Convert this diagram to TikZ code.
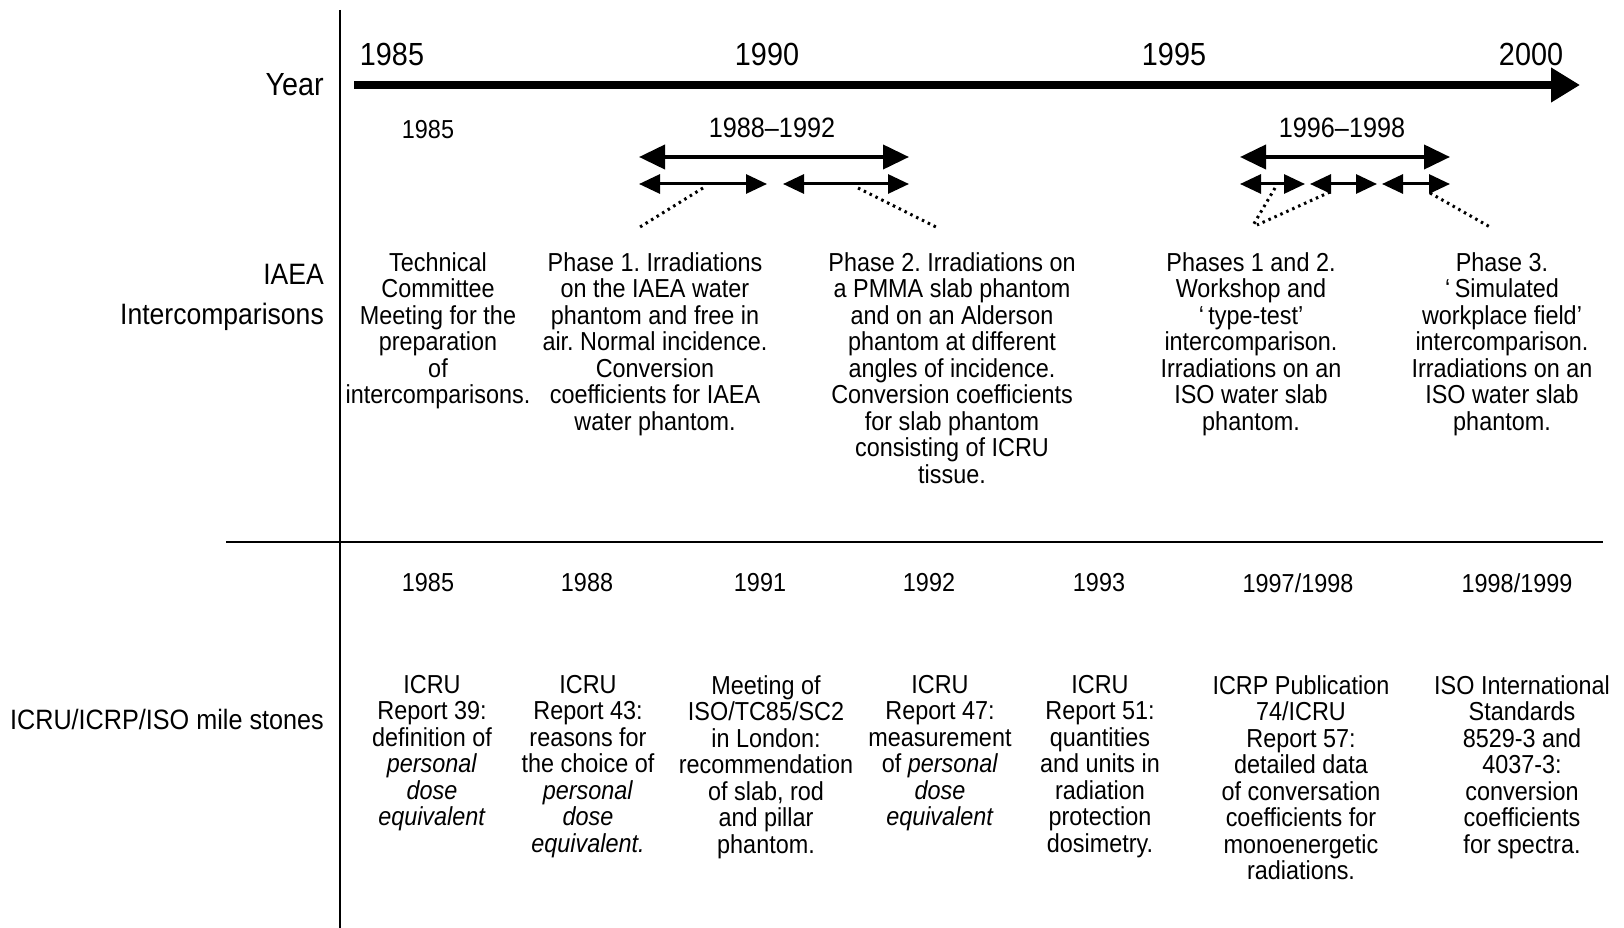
\documentclass[tikz,border=0pt]{standalone}
\usepackage{fontspec}
\setmainfont[FakeStretch=0.9]{Liberation Sans}
\usetikzlibrary{arrows.meta}
\begin{document}
\frenchspacing
\begin{tikzpicture}[x=1pt,y=-1pt,
  body/.style={font=\fontsize{26}{26.5}\selectfont, align=center, inner sep=0pt, anchor=north},
  yr/.style={font=\fontsize{26}{26.5}\selectfont, inner sep=0pt},
  spanyr/.style={font=\fontsize{28}{30}\selectfont, inner sep=0pt},
  topyr/.style={font=\fontsize{32}{34}\selectfont, inner sep=0pt},
  rowlab/.style={font=\fontsize{28}{40}\selectfont, align=right, inner sep=0pt},
  spanarrow/.style={line width=4pt, {Triangle[length=26pt,width=24pt]}-{Triangle[length=26pt,width=24pt]}},
  subarrow/.style={line width=3pt, {Triangle[length=21pt,width=19pt]}-{Triangle[length=21pt,width=19pt]}},
  dotline/.style={line width=3pt, dash pattern=on 2.5pt off 4pt},
  axisline/.style={line width=2pt}
]
\useasboundingbox (0,0) rectangle (1624,928);

% frame lines
\coordinate (vtop) at (340,10);
\coordinate (vbot) at (340,928);
\coordinate (hl) at (226,542);
\coordinate (hr) at (1603,542);
\draw[axisline] (vtop) -- (vbot);
\draw[line width=2.5pt] (hl) -- (hr);

% year axis
\coordinate (ystart) at (354,85);
\coordinate (yend) at (1580,85);
\draw[line width=8pt, -{Triangle[length=29pt,width=33pt]}] (ystart) -- (yend);
\node[topyr] (y85) at (392,54) {1985};
\node[topyr] (y90) at (767,54) {1990};
\node[topyr] (y95) at (1174,54) {1995};
\node[topyr] (y00) at (1531,54) {2000};

% row labels
\node[rowlab, font=\fontsize{32}{34}\selectfont, anchor=east] (lyear) at (324,85) {Year};
\node[rowlab, font=\fontsize{29.5}{40}\selectfont, anchor=north east] (liaea) at (324,264) {IAEA\\Intercomparisons};
\node[rowlab, anchor=east] (licru) at (324,719) {ICRU/ICRP/ISO mile stones};

% IAEA spans
\node[yr] (i85) at (428,130) {1985};
\node[spanyr] (s8892) at (772,128) {1988--1992};
\node[spanyr] (s9698) at (1342,128) {1996--1998};

\coordinate (a1l) at (639,157);
\coordinate (a1r) at (909,157);
\draw[spanarrow] (a1l) -- (a1r);
\coordinate (b1l) at (639,184);
\coordinate (b1r) at (767,184);
\coordinate (b2l) at (783,184);
\coordinate (b2r) at (909,184);
\draw[subarrow] (b1l) -- (b1r);
\draw[subarrow] (b2l) -- (b2r);

\coordinate (a2l) at (1240,157);
\coordinate (a2r) at (1450,157);
\draw[spanarrow] (a2l) -- (a2r);
\coordinate (c1l) at (1240,184);
\coordinate (c1r) at (1305,184);
\coordinate (c2l) at (1310,184);
\coordinate (c2r) at (1377,184);
\coordinate (c3l) at (1382,184);
\coordinate (c3r) at (1450,184);
\draw[subarrow] (c1l) -- (c1r);
\draw[subarrow] (c2l) -- (c2r);
\draw[subarrow] (c3l) -- (c3r);

% dotted leaders
\coordinate (d1a) at (703,188); \coordinate (d1b) at (640,227);
\coordinate (d2a) at (858,188); \coordinate (d2b) at (938,228);
\coordinate (d3a) at (1275,188); \coordinate (d3b) at (1252,227);
\coordinate (d4a) at (1330,192); \coordinate (d4b) at (1257,225);
\coordinate (d5a) at (1430,193); \coordinate (d5b) at (1490,227);
\draw[dotline] (d1a) -- (d1b);
\draw[dotline] (d2a) -- (d2b);
\draw[dotline] (d3a) -- (d3b);
\draw[dotline] (d4a) -- (d4b);
\draw[dotline] (d5a) -- (d5b);

% IAEA texts
\node[body] (t1) at (438,252) {Technical\\Committee\\Meeting for the\\preparation\\of\\intercomparisons.};
\node[body] (t2) at (655,252) {Phase 1. Irradiations\\on the IAEA water\\phantom and free in\\air. Normal incidence.\\Conversion\\coefficients for IAEA\\water phantom.};
\node[body] (t3) at (952,252) {Phase 2. Irradiations on\\a PMMA slab phantom\\and on an Alderson\\phantom at different\\angles of incidence.\\Conversion coefficients\\for slab phantom\\consisting of ICRU\\tissue.};
\node[body] (t4) at (1251,252) {Phases 1 and 2.\\Workshop and\\‘\,type-test’\\intercomparison.\\Irradiations on an\\ISO water slab\\phantom.};
\node[body] (t5) at (1502,252) {Phase 3.\\‘\,Simulated\\workplace field’\\intercomparison.\\Irradiations on an\\ISO water slab\\phantom.};

% milestone years
\node[yr] (m85) at (428,583) {1985};
\node[yr] (m88) at (587,583) {1988};
\node[yr] (m91) at (760,583) {1991};
\node[yr] (m92) at (929,583) {1992};
\node[yr] (m93) at (1099,583) {1993};
\node[yr] (m97) at (1298,583) {1997/1998};
\node[yr] (m98) at (1517,583) {1998/1999};

% milestone texts
\node[body] (u1) at (432,675) {ICRU\\Report 39:\\definition of\\\textit{personal}\\\textit{dose}\\\textit{equivalent}};
\node[body] (u2) at (588,675) {ICRU\\Report 43:\\reasons for\\the choice of\\\textit{personal}\\\textit{dose}\\\textit{equivalent.}};
\node[body] (u3) at (766,675) {Meeting of\\ISO/TC85/SC2\\in London:\\recommendation\\of slab, rod\\and pillar\\phantom.};
\node[body] (u4) at (940,675) {ICRU\\Report 47:\\measurement\\of \textit{personal}\\\textit{dose}\\\textit{equivalent}};
\node[body] (u5) at (1100,675) {ICRU\\Report 51:\\quantities\\and units in\\radiation\\protection\\dosimetry.};
\node[body] (u6) at (1301,675) {ICRP Publication\\74/ICRU\\Report 57:\\detailed data\\of conversation\\coefficients for\\monoenergetic\\radiations.};
\node[body] (u7) at (1522,675) {ISO International\\Standards\\8529-3 and\\4037-3:\\conversion\\coefficients\\for spectra.};
\end{tikzpicture}
\end{document}
